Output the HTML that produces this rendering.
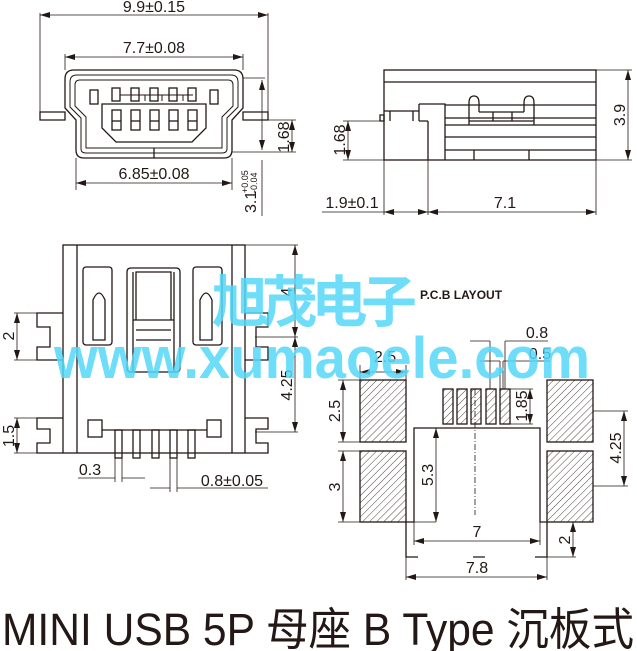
<!DOCTYPE html>
<html><head><meta charset="utf-8"><style>
html,body{margin:0;padding:0;background:#fff;}
svg{display:block;}
text{font-family:"Liberation Sans","Noto Sans CJK SC",sans-serif;fill:#231815;}
</style></head><body>
<svg width="637" height="651" viewBox="0 0 637 651" xmlns="http://www.w3.org/2000/svg">
<defs>
<pattern id="h" width="5" height="5" patternUnits="userSpaceOnUse" patternTransform="rotate(45)">
<rect width="5" height="5" fill="#fff"/><line x1="0" y1="0" x2="0" y2="5" stroke="#231815" stroke-width="0.8"/>
</pattern>
<marker id="a" viewBox="0 0 10 6" refX="10" refY="3" markerWidth="10" markerHeight="6" orient="auto-start-reverse" markerUnits="userSpaceOnUse"><path d="M0,0 L10,3 L0,6 z" fill="#231815"/></marker>
</defs>
<g stroke="#231815" fill="none" stroke-width="1.3">
<path d="M40,13 V112 M268,13 V112" stroke-width="0.8"/>
<line x1="40" y1="15" x2="268" y2="15" stroke-width="0.8" marker-start="url(#a)" marker-end="url(#a)"/>
<path d="M65,54 V70 M243,54 V70" stroke-width="0.8"/>
<line x1="65" y1="57" x2="243" y2="57" stroke-width="0.8" marker-start="url(#a)" marker-end="url(#a)"/>
<path d="M40,112 H65 V120 H40 Z M243,112 H268 V120 H243 Z"/>
<path d="M74,70 H234 Q243,70 243,79 V108 L232,120 V150 Q232,158 224,158 H84 Q76,158 76,150 V120 L65,108 V79 Q65,70 74,70 Z"/>
<path d="M77,75 H231 Q238,75 238,82 V107 L227,118 V149 Q227,153 222,153 H86 Q81,153 81,149 V118 L70,107 V82 Q70,75 77,75 Z" stroke-width="1"/>
<path d="M80,80 H228 Q233,80 233,85 V106 L222,117 V148 H86 V117 L75,106 V85 Q75,80 80,80 Z" stroke-width="1"/>
<path d="M154,148 V158"/>
<rect x="90" y="90" width="8" height="14"/><rect x="210" y="90" width="8" height="14"/>
<path d="M102,104 H206 V128 L192,142 H116 L102,128 Z"/>
<g id="pins">
<rect x="112" y="88" width="8" height="13"/><rect x="112" y="110" width="9" height="20"/><line x1="112" y1="121" x2="121" y2="121"/>
</g>
<use href="#pins" x="19"/><use href="#pins" x="38"/><use href="#pins" x="57"/><use href="#pins" x="76"/>
<path d="M120,95 H193 M145,95 V101 M162,95 V101 M183,95 V101" stroke-width="1"/>
<path d="M243,78 H265 M243,120 H296 M232,152 H296 M76,158 V190 M232,158 V190 M262,160 V216" stroke-width="0.8"/>
<line x1="262" y1="80" x2="262" y2="150" stroke-width="0.8" marker-start="url(#a)" marker-end="url(#a)"/>
<line x1="292" y1="120" x2="292" y2="152" stroke-width="0.8" marker-start="url(#a)" marker-end="url(#a)"/>
<line x1="76" y1="183" x2="232" y2="183" stroke-width="0.8" marker-start="url(#a)" marker-end="url(#a)"/>
<rect x="384" y="70" width="212" height="90"/>
<path d="M384,82 H596"/>
<path d="M380,115 H384 V121 H380 Z M384,111 H419 V121 M390,111 V121 M413,111 V121 M419,104 H445 V160 M428,121 V160 M419,104 V121 M428,121 H419"/>
<path d="M445,105 H596 M445,118 H596 M445,125 H596 M445,137 H596 M445,150 H596"/>
<path d="M469,125 V103 Q469,96 474,96 Q479,96 479,103 V112 M524,112 V103 Q524,96 529,96 Q534,96 534,103 V125 M479,112 H524 M493,112 V121 M512,112 V121 M469,121 H534"/>
<path d="M474,150 V160 M529,150 V160"/>
<path d="M343,121 H384 M596,70 H632 M596,160 H632 M343,160 H384 M384,160 V215 M428,160 V215 M596,160 V215" stroke-width="0.8"/>
<line x1="628" y1="70" x2="628" y2="160" stroke-width="0.8" marker-start="url(#a)" marker-end="url(#a)"/>
<line x1="348" y1="121" x2="348" y2="160" stroke-width="0.8" marker-start="url(#a)" marker-end="url(#a)"/>
<line x1="384" y1="212" x2="428" y2="212" stroke-width="0.8" marker-start="url(#a)" marker-end="url(#a)"/>
<line x1="428" y1="212" x2="596" y2="212" stroke-width="0.8" marker-start="url(#a)" marker-end="url(#a)"/>
<line x1="322" y1="212" x2="384" y2="212" stroke-width="0.8"/>
<rect x="63" y="245" width="182" height="208"/>
<path d="M77,245 V453 M232,245 V453"/>
<path d="M63,313 H37 V327 H50 V347 H37 V360 H63 M63,418 H37 V429 H50 V443 H37 V453 H63"/>
<path d="M245,313 H268 V327 H256 V347 H268 V360 H245 M245,418 H268 V429 H256 V443 H268 V453 H245"/>
<rect x="83" y="267" width="29" height="78" rx="3"/><rect x="193" y="267" width="29" height="78" rx="3"/>
<path d="M93,300 V340 H105 V300 Q99,286 93,300 Z M200,300 V340 H212 V300 Q206,286 200,300 Z"/>
<path d="M127,272 Q127,268 131,268 H176 Q180,268 180,272 V368 Q180,372 176,372 H131 Q127,372 127,368 Z"/>
<path d="M136,272 H171 V320 H136 Z M133,320 H174 M136,330 H171 M136,340 H171 M133,272 V372 M174,272 V372"/>
<rect x="88" y="420" width="14" height="17"/><rect x="207" y="420" width="14" height="17"/>
<path d="M102,430 H207"/>
<rect x="115" y="430" width="7" height="28"/><rect x="133" y="430" width="7" height="28"/><rect x="152" y="430" width="7" height="28"/><rect x="170" y="430" width="7" height="28"/><rect x="188" y="430" width="7" height="28"/>
<path d="M245,245 H298 M255,337 H298 M255,432 H298 M14,313 H37 M14,360 H37 M14,418 H37 M14,453 H37 M115,458 V482 M122,458 V482 M170,458 V492 M177,458 V492" stroke-width="0.8"/>
<line x1="295" y1="245" x2="295" y2="337" stroke-width="0.8" marker-start="url(#a)" marker-end="url(#a)"/>
<line x1="295" y1="337" x2="295" y2="432" stroke-width="0.8" marker-start="url(#a)" marker-end="url(#a)"/>
<line x1="17" y1="313" x2="17" y2="360" stroke-width="0.8" marker-start="url(#a)" marker-end="url(#a)"/>
<line x1="17" y1="418" x2="17" y2="453" stroke-width="0.8" marker-start="url(#a)" marker-end="url(#a)"/>
<path d="M78,478 H115 M122,478 H145 M150,488 H170 M177,488 H268" stroke-width="0.8"/>
<g fill="url(#h)">
<rect x="360" y="380" width="46" height="62"/><rect x="360" y="451" width="46" height="71"/>
<rect x="547" y="380" width="46" height="62"/><rect x="547" y="451" width="46" height="71"/>
<rect x="443" y="389" width="10" height="35"/><rect x="457" y="389" width="10" height="35"/><rect x="471" y="389" width="10" height="35"/><rect x="486" y="389" width="10" height="35"/><rect x="500" y="389" width="10" height="35"/>
</g>
<path d="M406,522 H414 V428 H540 V522 H547 M406,522 V557 H418 M547,522 V557 H535 M473,557 H485"/>
<path d="M475,389 V515" stroke-width="0.8" stroke-dasharray="6,2,1,2"/>
<path d="M338,380 H360 M338,442 H360 M338,451 H360 M338,522 H360 M360,365 V380 M406,365 V380 M593,411 H628 M593,486 H628 M414,522 V545 M540,522 V545 M406,557 V580 M547,557 V580 M414,522 H436 M510,389 H533 M510,424 H533 M490,341 V389 M505,341 V389 M500,361 V389 M503,361 V389 M547,557 H576" stroke-width="0.8"/>
<line x1="343" y1="380" x2="343" y2="442" stroke-width="0.8" marker-start="url(#a)" marker-end="url(#a)"/>
<line x1="343" y1="451" x2="343" y2="522" stroke-width="0.8" marker-start="url(#a)" marker-end="url(#a)"/>
<line x1="360" y1="372" x2="406" y2="372" stroke-width="0.8" marker-start="url(#a)" marker-end="url(#a)"/>
<line x1="436" y1="428" x2="436" y2="522" stroke-width="0.8" marker-start="url(#a)" marker-end="url(#a)"/>
<line x1="414" y1="541" x2="540" y2="541" stroke-width="0.8" marker-start="url(#a)" marker-end="url(#a)"/>
<line x1="406" y1="577" x2="547" y2="577" stroke-width="0.8" marker-start="url(#a)" marker-end="url(#a)"/>
<line x1="624" y1="411" x2="624" y2="486" stroke-width="0.8" marker-start="url(#a)" marker-end="url(#a)"/>
<line x1="573" y1="522" x2="573" y2="557" stroke-width="0.8" marker-start="url(#a)" marker-end="url(#a)"/>
<line x1="530" y1="389" x2="530" y2="424" stroke-width="0.8" marker-start="url(#a)" marker-end="url(#a)"/>
<path d="M470,341 H490 M505,341 H548 M480,361 H500 M503,361 H550" stroke-width="0.8"/>
</g>
<g font-size="16">
<text x="154" y="12" text-anchor="middle">9.9±0.15</text>
<text x="154" y="53" text-anchor="middle">7.7±0.08</text>
<text x="154" y="179" text-anchor="middle">6.85±0.08</text>
<text transform="translate(289,137) rotate(-90)" text-anchor="middle">1.68</text>
<text transform="translate(256,213) rotate(-90)">3.1</text>
<text transform="translate(248,193) rotate(-90)" font-size="9">+0.05</text>
<text transform="translate(257,193) rotate(-90)" font-size="9">-0.04</text>
<text transform="translate(625,115) rotate(-90)" text-anchor="middle">3.9</text>
<text transform="translate(345,140) rotate(-90)" text-anchor="middle">1.68</text>
<text x="352" y="208" text-anchor="middle">1.9±0.1</text>
<text x="505" y="208" text-anchor="middle">7.1</text>
<text transform="translate(292,292) rotate(-90)" text-anchor="middle">4</text>
<text transform="translate(292,385) rotate(-90)" text-anchor="middle">4.25</text>
<text transform="translate(14,336) rotate(-90)" text-anchor="middle">2</text>
<text transform="translate(14,436) rotate(-90)" text-anchor="middle">1.5</text>
<text x="90" y="475" text-anchor="middle">0.3</text>
<text x="232" y="486" text-anchor="middle">0.8±0.05</text>
<text x="385" y="362" text-anchor="middle">2.5</text>
<text transform="translate(340,411) rotate(-90)" text-anchor="middle">2.5</text>
<text transform="translate(340,487) rotate(-90)" text-anchor="middle">3</text>
<text transform="translate(433,475) rotate(-90)" text-anchor="middle">5.3</text>
<text x="477" y="537" text-anchor="middle">7</text>
<text x="477" y="573" text-anchor="middle">7.8</text>
<text transform="translate(621,448) rotate(-90)" text-anchor="middle">4.25</text>
<text transform="translate(570,540) rotate(-90)" text-anchor="middle">2</text>
<text transform="translate(527,406) rotate(-90)" text-anchor="middle">1.85</text>
<text x="537" y="338" text-anchor="middle">0.8</text>
<text x="540" y="359" text-anchor="middle">0.5</text>
</g>
<text x="420" y="299" font-size="12" font-weight="bold">P.C.B LAYOUT</text>
<g opacity="0.85" font-weight="bold">
<text x="212" y="322" font-size="56" style="fill:#55d8f8" textLength="205">旭茂电子</text>
<text x="54" y="378" font-size="58" style="fill:#55d8f8" textLength="536" lengthAdjust="spacingAndGlyphs">www.xumaoele.com</text>
</g>
<text x="2" y="645" font-size="45" textLength="632" lengthAdjust="spacingAndGlyphs">MINI USB 5P 母座 B Type 沉板式</text>
</svg>
</body></html>
